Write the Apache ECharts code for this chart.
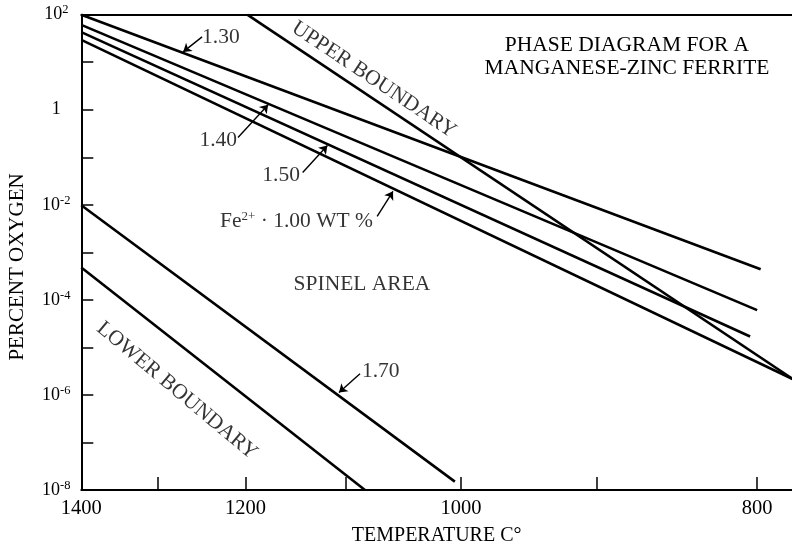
<!DOCTYPE html>
<html><head><meta charset="utf-8">
<script src="https://cdn.jsdelivr.net/npm/echarts@6/dist/echarts.min.js"></script>
<style>html,body{margin:0;padding:0;background:#fff}#c{width:792px;height:551px}</style>
</head><body><div id="c"></div>
<script>
// ---- axis ticks / labels (temperature, °C) ----
const xTickTemps = [1400, 1300, 1200, 1100, 1000, 900, 800];
const xLabelTemps = [1400, 1200, 1000, 800];
const xLeftT = 1400, xRightT = 780.5;       // visible temperature range
const yMin = 1e-8, yMax = 100;              // percent oxygen range

// ---- curves: [temperature °C, percent oxygen] ----
const curve130 = [[1400, 100], [798, 4.4e-4]];
const curve140 = [[1400, 61], [800, 6.1e-5]];
const curve150 = [[1400, 43], [804, 1.7e-5]];
const curveFe100 = [[1400, 29.5], [780, 2.15e-6]];
const upperBoundary = [[1198, 100], [780, 2.15e-6]];
const curve170 = [[1400, 0.0098], [1005, 1.5e-8]];
const lowerBoundary = [[1400, 4.8e-4], [1082, 1e-8]];

// ---- arrows: [tail, tip] ----
const arrow130 = [[1248, 34.1], [1270, 16.5]];
const arrow140 = [[1208, 0.26], [1176, 1.28]];
const arrow150 = [[1141, 0.048], [1117, 0.177]];
const arrowFe = [[1071, 5.7e-3], [1057, 0.0192]];
const arrow170 = [[1086.5, 2.8e-6], [1106, 1.12e-6]];

// ---- annotation texts and anchors ----
const annotTexts = ['1.30', '1.40', '1.50', 'Fe{sup|2+} · 1.00 WT %', '1.70', 'UPPER BOUNDARY', 'LOWER BOUNDARY', 'SPINEL AREA'];
const annotAnchors = [[1248, 34.1], [1209, 0.225], [1143.7, 0.0415], [1074.8, 4.5e-3], [1084.7, 3.08e-6], [1073.9, 4.28], [1277.3, 1.23e-6], [1084.7, 2.15e-4]];
const titleLines = ['PHASE DIAGRAM FOR A', 'MANGANESE-ZINC FERRITE'];
const xName = 'TEMPERATURE C°';
const yName = 'PERCENT OXYGEN';

// ---- build ----
const K = 273.15;
const inv = T => 1e4 / (T + K);
const toXY = pts => pts.map(([T, p]) => [inv(T), p]);
const FONT = '"Liberation Serif", "Times New Roman", serif';
const INK = '#000';

const annotStyles = [
  {align: 'left'}, {align: 'right'}, {align: 'right'}, {align: 'right'}, {align: 'left'},
  {align: 'center', rotate: -33.8}, {align: 'center', rotate: -40}, {align: 'center'}
];

const curves = [curve130, curve140, curve150, curveFe100, upperBoundary, curve170, lowerBoundary];
const arrows = [arrow130, arrow140, arrow150, arrowFe, arrow170];

const series = curves.map(c => ({
  type: 'line', data: toXY(c), symbol: 'none', silent: true, animation: false,
  lineStyle: {color: INK, width: 2.6}, clip: true
}));
series.push({
  type: 'lines', coordinateSystem: 'cartesian2d', silent: true, animation: false,
  symbol: ['none', 'arrow'], symbolSize: 8,
  lineStyle: {color: INK, width: 1.4, opacity: 1},
  data: arrows.map(a => ({coords: toXY(a)}))
});
series.push({
  type: 'scatter', symbolSize: 0, silent: true, animation: false, clip: false,
  data: annotAnchors.map((a, i) => ({
    value: [inv(a[0]), a[1]],
    label: Object.assign({
      show: true, position: 'inside', formatter: annotTexts[i],
      fontFamily: FONT, fontSize: 21.5, color: INK, verticalAlign: 'middle',
      rich: {sup: {fontFamily: FONT, fontSize: 13, color: INK, padding: [0, 0, 10, 0]}}
    }, annotStyles[i])
  }))
});

const chart = echarts.init(document.getElementById('c'), null, {renderer: 'canvas'});
chart.setOption({
  backgroundColor: '#fff',
  animation: false,
  title: {
    text: titleLines.join('\n'), left: 627, top: 33.5, textAlign: 'center', padding: 0,
    textStyle: {fontFamily: FONT, fontSize: 21.5, fontWeight: 'normal', color: INK, lineHeight: 23}
  },
  grid: {left: 81.3, right: 0, top: 14.7, bottom: 59.3, containLabel: false},
  xAxis: [{
    type: 'value', min: inv(xLeftT), max: inv(xRightT), position: 'bottom',
    axisLine: {show: true, lineStyle: {color: INK, width: 2}},
    axisTick: {show: true, inside: true, length: 13, lineStyle: {color: INK, width: 1.5},
      customValues: xTickTemps.map(inv)},
    axisLabel: {show: true, customValues: xLabelTemps.map(inv), margin: 8,
      formatter: v => String(Math.round(1e4 / v - K)),
      fontFamily: FONT, fontSize: 20.5, color: INK},
    splitLine: {show: false},
    name: xName, nameLocation: 'middle', nameGap: 36,
    nameTextStyle: {fontFamily: FONT, fontSize: 20, color: INK}
  }, {
    type: 'value', min: inv(xLeftT), max: inv(xRightT), position: 'top',
    axisLine: {show: true, lineStyle: {color: INK, width: 2}},
    axisTick: {show: false}, axisLabel: {show: false}, splitLine: {show: false}
  }],
  yAxis: {
    type: 'log', logBase: 10, min: yMin, max: yMax, interval: 1,
    axisLine: {show: true, lineStyle: {color: INK, width: 2}},
    axisTick: {show: true, inside: true, length: 12, lineStyle: {color: INK, width: 1.5}},
    axisLabel: {
      margin: 25, align: 'center', fontFamily: FONT, fontSize: 18, color: INK,
      formatter: v => {
        const e = Math.round(Math.log10(v));
        if (e % 2 !== 0) return '';
        if (e === 0) return '1';
        return '10{sup|' + (e < 0 ? '-' : '') + Math.abs(e) + '}';
      },
      rich: {sup: {fontFamily: FONT, fontSize: 12.5, color: INK, padding: [0, 0, 9, 0]}}
    },
    splitLine: {show: false}
  },
  graphic: [{
    type: 'text', x: 17, y: 267, rotation: Math.PI / 2, silent: true,
    style: {text: yName, font: '21px ' + FONT, fill: INK, textAlign: 'center', textVerticalAlign: 'middle'}
  }],
  series: series
});
</script></body></html>
